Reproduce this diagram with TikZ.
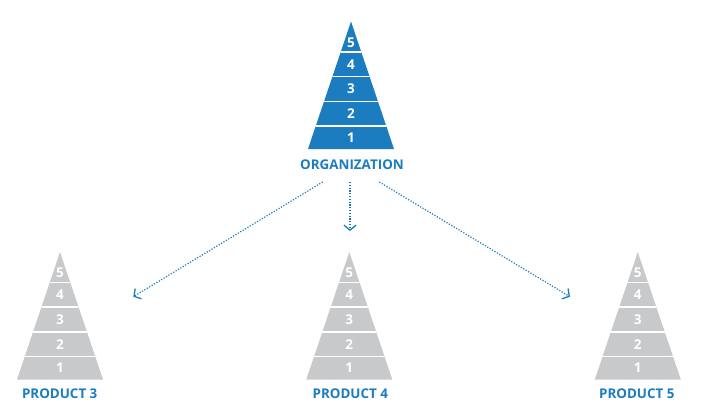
\documentclass[tikz,border=0pt]{standalone}
\usepackage{fontspec}
\setmainfont{Open Sans}
\usetikzlibrary{arrows.meta}
\definecolor{pblue}{HTML}{1B7DC0}
\definecolor{pgrey}{HTML}{C8C9CB}
\tikzset{
  numlbl/.style={text=white, font=\bfseries\fontsize{13.5}{15}\selectfont, inner sep=0pt},
  caplbl/.style={text=pblue, font=\bfseries\fontsize{13.4}{15}\selectfont, inner sep=0pt},
  sepline/.style={white, line width=1.5pt},
  link/.style={pblue, line width=1.2pt, dash pattern=on 1.2pt off 1.6pt,
    -{Straight Barb[length=5pt,width=12pt,line width=1.3pt]}}
}
% #1 = centre x, #2 = base y, #3 = fill colour, #4 = name
\newcommand\pyr[4]{%
  \begin{scope}
    \fill[#3] (#1-43,#2) -- (#1,#2-127.5) -- (#1+43,#2) -- cycle;
    \clip (#1-43,#2) -- (#1,#2-127.5) -- (#1+43,#2) -- cycle;
    \foreach \d in {23,47.5,72.5,97}
      \draw[sepline] (#1-50,#2-\d) -- (#1+50,#2-\d);
  \end{scope}
  \node[numlbl] (#4n1) at (#1,#2-11.5) {1};
  \node[numlbl] (#4n2) at (#1,#2-35.2) {2};
  \node[numlbl] (#4n3) at (#1,#2-60) {3};
  \node[numlbl] (#4n4) at (#1,#2-84.7) {4};
  \node[numlbl] (#4n5) at (#1,#2-106.5) {5};
}
\begin{document}
\begin{tikzpicture}[x=1pt,y=-1pt]
\useasboundingbox (0,0) rectangle (705,408);
\fill[white] (0,0) rectangle (705,408);
\pyr{351}{149}{pblue}{o}
\pyr{60}{379.5}{pgrey}{a}
\pyr{349.3}{379.5}{pgrey}{b}
\pyr{637.8}{379.5}{pgrey}{c}
\node[caplbl] (org) at (352,164.5) {ORGANIZATION};
\node[caplbl] (p3) at (59.7,393.8) {PRODUCT 3};
\node[caplbl] (p4) at (350.3,393.8) {PRODUCT 4};
\node[caplbl] (p5) at (636.8,393.8) {PRODUCT 5};
\coordinate (sL) at (322.7,182);
\coordinate (sM) at (350,182);
\coordinate (sR) at (379.3,182);
\coordinate (eL) at (133.3,296.7);
\coordinate (eM) at (350,231);
\coordinate (eR) at (570,296.7);
\draw[link] (sL) -- (eL);
\draw[link] (sM) -- (eM);
\draw[link] (sR) -- (eR);
\end{tikzpicture}
\end{document}
